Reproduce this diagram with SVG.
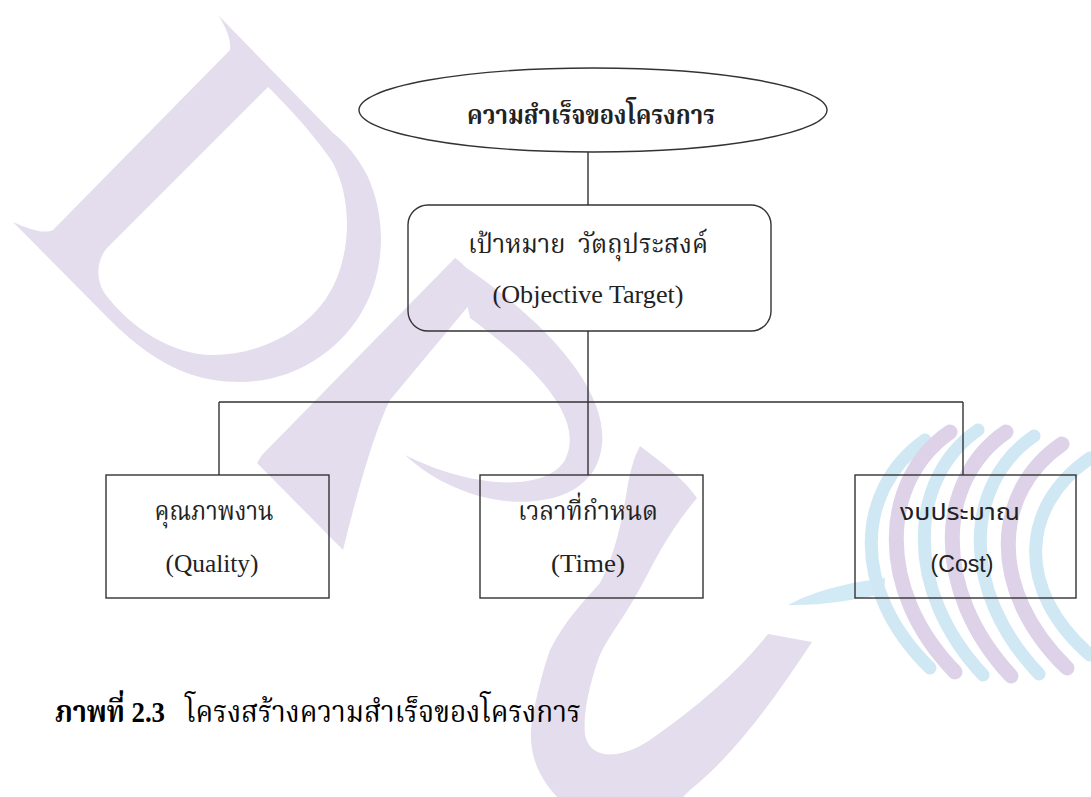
<svg xmlns="http://www.w3.org/2000/svg" width="1091" height="797" viewBox="0 0 1091 797">
<style>
.wl{fill:#e4dded}
.wb{fill:#d2eaf5}
.sl{fill:none;stroke:#ddd2e8;stroke-width:15;stroke-linecap:round}
.sb{fill:none;stroke:#cfe8f4;stroke-width:13;stroke-linecap:round}
.shape{fill:none;stroke:#333;stroke-width:1.4}
.conn{fill:none;stroke:#333;stroke-width:1.4}
.th{font-family:"Liberation Serif","Noto Serif Thai","Noto Sans Thai","Tlwg Typo","Loma","Garuda",serif;font-size:26px;fill:#222;text-anchor:middle}
.en{font-family:"Liberation Serif",serif;font-size:25px;fill:#222;text-anchor:middle}
.sans{font-family:"Liberation Sans","Noto Sans Thai","Loma","Garuda",sans-serif;font-size:23px;fill:#222;text-anchor:middle}
.cap{font-family:"Liberation Serif","Noto Serif Thai","Noto Sans Thai","Tlwg Typo","Loma","Garuda",serif;font-size:30px;fill:#000}
</style>
<rect width="1091" height="797" fill="#ffffff"/>
<g id="watermark">
  <path class="wl" fill-rule="evenodd" d="M218 15 C228 30 231 42 230 50 L53 230 C45 234 30 230 13 222 L110 320 C160 370 200 382 240 382 C290 382 335 355 360 315 C385 275 388 220 367 175 C355 152 342 140 333 133 Z M268 87 L107 248 C95 262 95 285 110 300 C130 325 170 355 213 355 C255 355 300 335 325 300 C350 265 355 205 333 163 C325 150 300 118 268 87 Z"/>
  <path class="wl" d="M455 258 Q470 268 480 292 L390 400 Q370 440 343 550 L257 463 L262 455 Z"/>
  <path class="wl" d="M458 262 C560 330 625 410 595 468 C570 515 470 515 405 455 C470 488 545 493 565 460 C585 420 540 370 470 318 Z"/>
  <path class="wl" d="M640 446 C665 465 685 480 697 498 C670 530 655 560 643 583 C620 625 605 640 598 660 C588 690 583 715 585 735 C590 760 620 760 650 740 C700 705 740 670 768 634 L812 642 C780 690 740 750 690 790 L680 800 L560 800 C530 770 528 740 533 715 C538 690 543 670 550 650 C565 620 585 600 600 583 C615 555 622 520 627 490 C630 470 635 455 640 446 Z"/>
  <path class="wb" d="M788 605 C820 588 855 582 885 578 L884 594 C852 600 820 606 788 605 Z"/>
  <path class="sb" d="M925 440 C855 490 850 590 930 668"/>
  <path class="sl" d="M950 432 C880 480 875 590 955 672"/>
  <path class="sb" d="M978 430 C908 478 903 590 983 675"/>
  <path class="sl" d="M1006 432 C936 480 931 590 1011 676"/>
  <path class="sb" d="M1034 436 C964 484 959 590 1039 674"/>
  <path class="sl" d="M1062 444 C992 492 987 590 1067 668"/>
  <path class="sb" d="M1090 458 C1020 506 1015 590 1090 655"/>
</g>
<g id="connectors">
  <path class="conn" d="M588 152 V205 M588 331 V402 M219 402 H963 M219 402 V475 M588 402 V475 M963 402 V475"/>
</g>
<g id="node-success">
  <ellipse class="shape" cx="593" cy="110" rx="234" ry="42"/>
  <text class="th" x="591" y="124" font-weight="bold" textLength="248" lengthAdjust="spacingAndGlyphs">ความสำเร็จของโครงการ</text>
</g>
<g id="node-objective">
  <rect class="shape" x="408" y="205" width="363" height="126" rx="20" ry="20"/>
  <text class="th" x="588" y="253" textLength="240" lengthAdjust="spacingAndGlyphs">เป้าหมาย&#160; วัตถุประสงค์</text>
  <text class="en" x="588" y="303" textLength="191" lengthAdjust="spacingAndGlyphs">(Objective Target)</text>
</g>
<g id="node-quality">
  <rect class="shape" x="106" y="475" width="223" height="123"/>
  <text class="th" x="214" y="520" textLength="119" lengthAdjust="spacingAndGlyphs">คุณภาพงาน</text>
  <text class="en" x="212" y="572" textLength="93" lengthAdjust="spacingAndGlyphs">(Quality)</text>
</g>
<g id="node-time">
  <rect class="shape" x="480" y="475" width="223" height="123"/>
  <text class="th" x="588" y="520" textLength="140" lengthAdjust="spacingAndGlyphs">เวลาที่กำหนด</text>
  <text class="en" x="588" y="572" textLength="74" lengthAdjust="spacingAndGlyphs">(Time)</text>
</g>
<g id="node-cost">
  <rect class="shape" x="855" y="475" width="221" height="123"/>
  <text class="sans" x="960" y="520" textLength="120" lengthAdjust="spacingAndGlyphs">งบประมาณ</text>
  <text class="sans" x="962" y="572" textLength="63" lengthAdjust="spacingAndGlyphs">(Cost)</text>
</g>
<g id="caption">
  <text class="cap" x="55" y="722" font-weight="bold" textLength="110" lengthAdjust="spacingAndGlyphs">ภาพที่ 2.3</text>
  <text class="cap" x="185" y="722" textLength="396" lengthAdjust="spacingAndGlyphs">โครงสร้างความสำเร็จของโครงการ</text>
</g>
</svg>
